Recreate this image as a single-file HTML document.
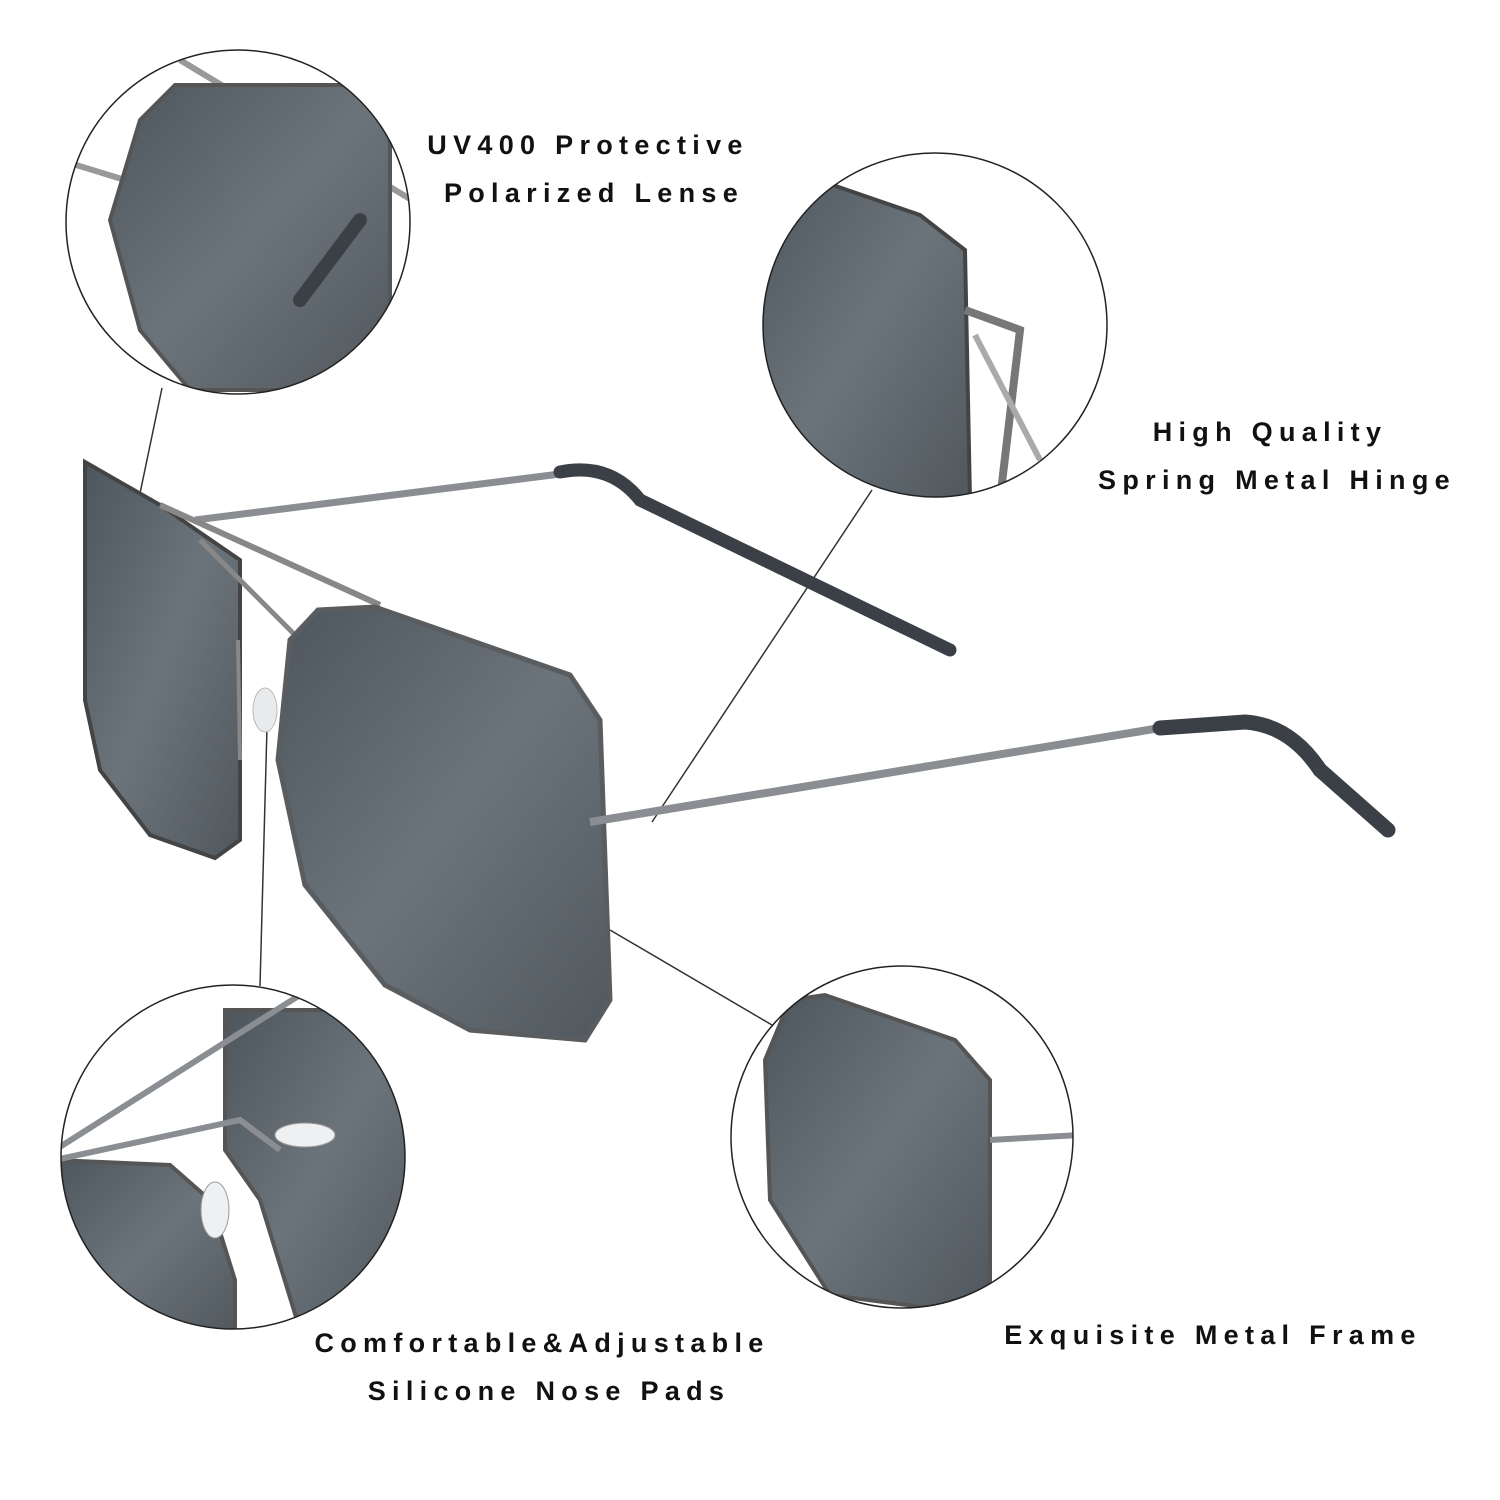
<!DOCTYPE html>
<html><head><meta charset="utf-8"><style>
html,body{margin:0;padding:0;background:#fff;}
svg{display:block}
text{font-family:"Liberation Sans",sans-serif;font-weight:bold;font-size:27px;letter-spacing:6.3px;fill:#111;text-anchor:middle}
</style></head><body>
<svg width="1500" height="1500" viewBox="0 0 1500 1500">
<defs>
<linearGradient id="lg" x1="0" y1="0" x2="1" y2="1">
<stop offset="0" stop-color="#4e565d"/><stop offset="0.5" stop-color="#6c747b"/><stop offset="1" stop-color="#50585e"/>
</linearGradient>
<clipPath id="c1"><circle cx="238" cy="222" r="172"/></clipPath>
<clipPath id="c2"><circle cx="935" cy="325" r="172"/></clipPath>
<clipPath id="c3"><circle cx="233" cy="1157" r="172"/></clipPath>
<clipPath id="c4"><circle cx="902" cy="1137" r="171"/></clipPath>
</defs>

<g stroke="#333" stroke-width="1.5">
<line x1="162" y1="388" x2="124" y2="570"/>
<line x1="872" y1="490" x2="652" y2="822"/>
<line x1="268" y1="690" x2="260" y2="986"/>
<line x1="610" y1="930" x2="772" y2="1025"/>
</g>

<g>
<path d="M195 520 L560 474" stroke="#8a8e92" stroke-width="7" fill="none"/>
<path d="M560 472 Q610 462 640 500 L950 650" stroke="#3a4046" stroke-width="13" fill="none" stroke-linecap="round"/>
<polygon points="85,462 160,505 240,560 240,840 215,858 150,835 100,770 85,700" fill="url(#lg)" stroke="#444" stroke-width="4"/>
<path d="M160 505 L380 605" stroke="#888" stroke-width="6" fill="none"/>
<path d="M200 540 Q260 600 300 640" stroke="#888" stroke-width="5" fill="none"/>
<path d="M238 640 L240 760" stroke="#888" stroke-width="4" fill="none"/>
<polygon points="318,610 375,607 570,675 600,720 610,1000 585,1040 470,1030 385,985 305,885 278,760 290,640" fill="url(#lg)" stroke="#5a5d60" stroke-width="5"/>
<ellipse cx="265" cy="710" rx="12" ry="22" fill="#e8eaec" stroke="#bbb"/>
<path d="M590 822 L1160 728" stroke="#8a8e92" stroke-width="8" fill="none"/>
<path d="M1160 728 L1245 722 Q1290 725 1320 770 L1388 830" stroke="#3a4046" stroke-width="15" fill="none" stroke-linecap="round"/>
</g>

<g clip-path="url(#c1)">
<rect x="60" y="40" width="360" height="360" fill="#fff"/>
<path d="M60 160 L125 180 M180 60 L420 205" stroke="#999" stroke-width="6"/>
<polygon points="140,120 175,85 390,85 390,360 340,390 190,390 140,330 110,220" fill="url(#lg)" stroke="#555" stroke-width="4"/>
<path d="M300 300 L360 220" stroke="#3a4046" stroke-width="14" stroke-linecap="round"/>
</g>
<circle cx="238" cy="222" r="172" fill="none" stroke="#222" stroke-width="1.5"/>

<g clip-path="url(#c2)">
<rect x="760" y="150" width="350" height="350" fill="#fff"/>
<polygon points="760,160 920,215 965,250 970,500 760,500" fill="url(#lg)" stroke="#444" stroke-width="4"/>
<path d="M965 310 L1020 330 L1000 500" stroke="#777" stroke-width="8" fill="none"/>
<path d="M975 335 L1040 460" stroke="#aaa" stroke-width="6" fill="none"/>
</g>
<circle cx="935" cy="325" r="172" fill="none" stroke="#222" stroke-width="1.5"/>

<g clip-path="url(#c3)">
<rect x="55" y="980" width="360" height="360" fill="#fff"/>
<polygon points="225,1010 410,1010 410,1330 300,1330 260,1200 225,1150" fill="url(#lg)" stroke="#555" stroke-width="4"/>
<polygon points="55,1160 170,1165 210,1200 235,1280 235,1340 55,1340" fill="url(#lg)" stroke="#555" stroke-width="4"/>
<path d="M55 1150 L300 995 M55 1160 L240 1120 L280 1150" stroke="#8a8e92" stroke-width="6" fill="none"/>
<ellipse cx="305" cy="1135" rx="30" ry="12" fill="#eef0f2" stroke="#999"/>
<ellipse cx="215" cy="1210" rx="14" ry="28" fill="#eef0f2" stroke="#999"/>
</g>
<circle cx="233" cy="1157" r="172" fill="none" stroke="#222" stroke-width="1.5"/>

<g clip-path="url(#c4)">
<rect x="725" y="960" width="360" height="360" fill="#fff"/>
<polygon points="790,1000 825,995 955,1040 990,1080 990,1300 945,1310 830,1295 770,1200 765,1060" fill="url(#lg)" stroke="#555" stroke-width="4"/>
<path d="M990 1140 L1080 1135" stroke="#8a8e92" stroke-width="6"/>
</g>
<circle cx="902" cy="1137" r="171" fill="none" stroke="#222" stroke-width="1.5"/>

<text x="588" y="154">UV400 Protective</text>
<text x="594" y="202">Polarized Lense</text>
<text x="1270" y="441">High Quality</text>
<text x="1277" y="489">Spring Metal Hinge</text>
<text x="542" y="1352">Comfortable&amp;Adjustable</text>
<text x="549" y="1400">Silicone Nose Pads</text>
<text x="1213" y="1344">Exquisite Metal Frame</text>
</svg>
</body></html>
